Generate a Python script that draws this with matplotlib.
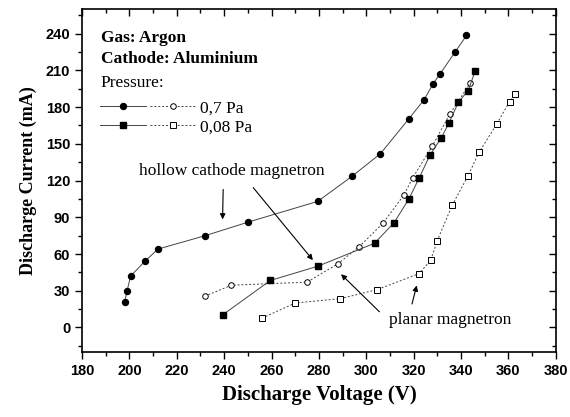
import matplotlib.pyplot as plt
from matplotlib.legend_handler import HandlerTuple

# Hollow cathode magnetron, 0.7 Pa (filled circles)
hc07_v = [198, 199, 200.5, 206.5, 212, 232, 250, 279.5, 294, 306, 318, 324.4, 328.2, 331.1, 337.5, 342.3]
hc07_i = [21, 30, 42, 54, 64, 75, 86, 103, 123.5, 142, 170.5, 186, 199, 207, 225, 238.5]

# Hollow cathode magnetron, 0.08 Pa (filled squares)
hc008_v = [239.5, 259.5, 279.5, 303.5, 311.7, 318, 322.3, 326.8, 331.7, 334.9, 338.9, 343, 346]
hc008_i = [10.5, 38.4, 50, 68.8, 85.5, 105, 122, 140.5, 155, 167, 184, 193.5, 209.5]

# Planar magnetron, 0.7 Pa (open circles)
pl07_v = [231.8, 243, 275, 288, 297, 307, 315.8, 319.7, 327.9, 335.2, 344]
pl07_i = [25.5, 34.5, 37, 52, 66, 85, 108, 122.5, 148.3, 174, 200]

# Planar magnetron, 0.08 Pa (open squares)
pl008_v = [256, 270, 289, 304.7, 322.3, 327.2, 330, 336.3, 343, 347.6, 355, 360.5, 363]
pl008_i = [7.6, 20, 23.5, 31, 44, 55, 71, 100, 124, 143, 166, 184.5, 191]

serif = "Liberation Serif"
sans = "Liberation Sans"
lc = "#444444"
fs = 12.5

fig = plt.figure(figsize=(5.7, 4.17), dpi=100)
ax = fig.add_axes([0.144, 0.156, 0.831, 0.822])

l1, = ax.plot(hc07_v, hc07_i, "-", color=lc, lw=0.7, marker="o", ms=4.3,
              mfc="black", mec="black")
l2, = ax.plot(pl07_v, pl07_i, color=lc, lw=0.7, ls=(0, (2, 2)), marker="o", ms=4,
              mfc="white", mec="black", mew=0.7)
l3, = ax.plot(hc008_v, hc008_i, "-", color=lc, lw=0.7, marker="s", ms=5,
              mfc="black", mec="black")
l4, = ax.plot(pl008_v, pl008_i, color=lc, lw=0.7, ls=(0, (2, 2)), marker="s", ms=4.6,
              mfc="white", mec="black", mew=0.7)

ax.set_xlim(180, 380)
ax.set_ylim(-20, 260)
ax.set_xticks(range(180, 381, 20))
ax.set_xticks(range(190, 380, 20), minor=True)
ax.set_yticks(range(0, 241, 30))
ax.set_yticks(range(-15, 256, 30), minor=True)
for lab in ax.get_xticklabels() + ax.get_yticklabels():
    lab.set_fontfamily(sans)
    lab.set_fontweight("bold")
    lab.set_fontsize(10.5)
ax.tick_params(which="major", length=5, width=1, direction="out")
ax.tick_params(which="minor", length=3, width=1, direction="out")
ax.tick_params(which="both", top=True, right=True)
for sp in ax.spines.values():
    sp.set_linewidth(1.2)

# ticks on top/right point inward
for t in ax.xaxis.get_major_ticks() + ax.xaxis.get_minor_ticks():
    t.tick2line.set_marker(3)
for t in ax.yaxis.get_major_ticks() + ax.yaxis.get_minor_ticks():
    t.tick2line.set_marker(0)

ax.set_xlabel("Discharge Voltage (V)", fontfamily=serif, fontweight="bold", fontsize=15, labelpad=5)
ax.set_ylabel("Discharge Current (mA)", fontfamily=serif, fontweight="bold", fontsize=13, labelpad=6)

ax.text(0.039, 0.916, "Gas: Argon", transform=ax.transAxes, fontfamily=serif,
        fontweight="bold", fontsize=fs, va="center")
ax.text(0.039, 0.855, "Cathode: Aluminium", transform=ax.transAxes, fontfamily=serif,
        fontweight="bold", fontsize=fs, va="center")
ax.text(0.039, 0.785, "Pressure:", transform=ax.transAxes, fontfamily=serif,
        fontsize=fs, va="center")

ax.legend([(l1, l2), (l3, l4)], ["0,7 Pa", "0,08 Pa"],
          handler_map={tuple: HandlerTuple(ndivide=2, pad=0.25)},
          loc="upper left", bbox_to_anchor=(0.038, 0.734), frameon=False,
          borderpad=0, borderaxespad=0, handlelength=5.5, handletextpad=0.25,
          labelspacing=0.15, prop={"family": serif, "size": fs})

arrow = dict(arrowstyle="-|>", color="black", lw=0.8, mutation_scale=8)
ax.text(243.3, 128, "hollow cathode magnetron", fontfamily=serif, fontsize=fs,
        ha="center", va="center")
ax.annotate("", xy=(239.3, 86), xytext=(239.6, 115), arrowprops=arrow)
ax.annotate("", xy=(278.2, 53.3), xytext=(251.5, 116), arrowprops=arrow)

ax.text(335.3, 5.7, "planar magnetron", fontfamily=serif, fontsize=fs,
        ha="center", va="center")
ax.annotate("", xy=(288.5, 45.1), xytext=(306.4, 11.2), arrowprops=arrow)
ax.annotate("", xy=(321.6, 36.5), xytext=(319, 17), arrowprops=arrow)

fig.savefig("out.png", dpi=100)
